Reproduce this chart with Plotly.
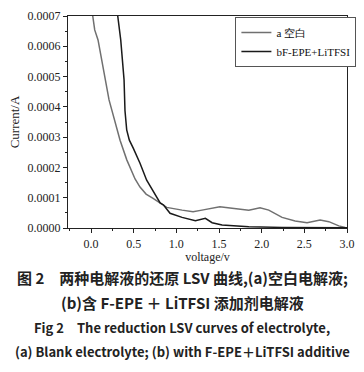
import plotly.graph_objects as go

# Curve a (blank electrolyte)
volt_a = [0.02, 0.043, 0.082, 0.125, 0.164, 0.211, 0.243, 0.293, 0.34, 0.419, 0.516, 0.574,
          0.645, 0.727, 0.81, 0.887, 1.067, 1.196, 1.30, 1.474, 1.51, 1.653, 1.849, 1.981, 2.083,
          2.239, 2.392, 2.532, 2.685, 2.787, 2.904, 2.978]
curr_a = [7.0, 6.54, 6.21, 5.55, 4.89, 4.23, 3.9, 3.35, 2.9, 2.25, 1.62, 1.35,
          1.12, 0.98, 0.83, 0.68, 0.59, 0.54, 0.59, 0.68, 0.70, 0.65, 0.59, 0.67, 0.59,
          0.35, 0.23, 0.17, 0.26, 0.21, 0.07, 0.02]

# Curve b (F-EPE + LiTFSI)
volt_b = [0.313, 0.348, 0.387, 0.398, 0.418, 0.449, 0.496, 0.574, 0.652, 0.73, 0.81, 0.85,
          0.926, 1.067, 1.223, 1.34, 1.419, 1.536, 1.849, 2.24, 2.6, 3.0]
curr_b = [7.0, 6.21, 4.89, 3.87, 3.24, 2.9, 2.63, 2.14, 1.58, 1.22, 0.83, 0.76,
          0.485, 0.35, 0.24, 0.32, 0.175, 0.10, 0.04, 0.02, 0.01, 0.005]

scale = 1e-4
name_a = "a 空白"
name_b = "bF-EPE+LiTFSI"

x_ticks = [0.0, 0.5, 1.0, 1.5, 2.0, 2.5, 3.0]
y_ticks = [0.0, 0.0001, 0.0002, 0.0003, 0.0004, 0.0005, 0.0006, 0.0007]

caption = [
    "图 2　两种电解液的还原 LSV 曲线,(a)空白电解液;",
    "(b)含 F-EPE ＋ LiTFSI 添加剂电解液",
    "Fig 2　The reduction LSV curves of electrolyte,",
    "(a) Blank electrolyte; (b) with F-EPE＋LiTFSI additive",
]
caption_y_px = [277, 302, 327, 351]
caption_size = [15, 15, 13, 13]

serif = "Liberation Serif, Times New Roman, serif"

fig = go.Figure()
fig.add_trace(go.Scatter(x=volt_a, y=[v * scale for v in curr_a], mode="lines", name=name_a,
                         line=dict(color="#707070", width=1.5)))
fig.add_trace(go.Scatter(x=volt_b, y=[v * scale for v in curr_b], mode="lines", name=name_b,
                         line=dict(color="#1a1a1a", width=1.5)))

L, R, T, B = 68, 17, 16, 144
W, H = 364, 372
ph = H - T - B

for txt, py, fs in zip(caption, caption_y_px, caption_size):
    fig.add_annotation(text="<b>" + txt + "</b>", xref="paper", yref="paper",
                       x=(182 - L) / (W - L - R), y=(H - B - py) / ph,
                       xanchor="center", yanchor="middle", showarrow=False,
                       font=dict(size=fs, color="#222", family="Noto Sans CJK SC, Liberation Serif, serif"))

fig.update_layout(
    width=W, height=H,
    margin=dict(l=L, r=R, t=T, b=B, autoexpand=False),
    paper_bgcolor="white", plot_bgcolor="white",
    font=dict(family=serif, size=12, color="#222"),
    showlegend=True,
    legend=dict(x=0.6, y=0.995, xanchor="left", yanchor="top",
                bordercolor="#555", borderwidth=1, bgcolor="white",
                font=dict(size=11, family=serif, color="#111"), tracegroupgap=0,
                itemwidth=30),
)
fig.update_xaxes(range=[-0.27, 3.0], tickvals=x_ticks, tickformat=".1f",
                 showline=True, linecolor="#222", linewidth=1.2, mirror=True,
                 ticks="outside", ticklen=4, tickcolor="#222",
                 minor=dict(dtick=0.25, ticks="outside", ticklen=2, tickcolor="#222"),
                 showgrid=False, zeroline=False, automargin=False,
                 title=dict(text="voltage/v", standoff=2, font=dict(size=12)),
                 tickfont=dict(size=12))
fig.update_yaxes(range=[0, 0.0007], tickvals=y_ticks, tickformat=".4f",
                 showline=True, linecolor="#222", linewidth=1.2, mirror=True,
                 ticks="outside", ticklen=4, tickcolor="#222",
                 minor=dict(dtick=0.00005, ticks="outside", ticklen=2, tickcolor="#222"),
                 showgrid=False, zeroline=False, automargin=False,
                 title=dict(text="Current/A", standoff=4, font=dict(size=13)),
                 tickfont=dict(size=12))

fig.write_html("out.html", config={"displayModeBar": False},
               post_script="document.body.style.margin='0';document.body.style.padding='0';")
